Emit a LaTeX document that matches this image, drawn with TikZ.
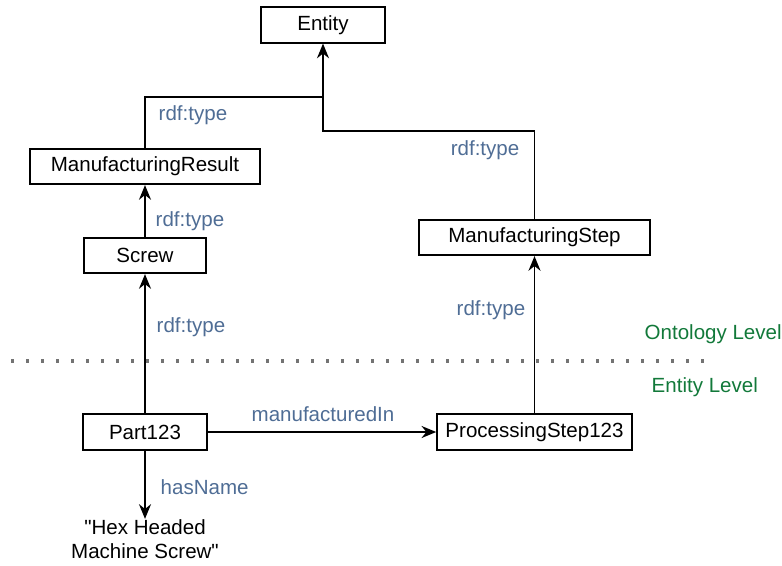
\documentclass[tikz,border=0pt]{standalone}
\usepackage{fontspec}
\setmainfont{Liberation Sans}[Ligatures=TeXOff]
\usetikzlibrary{positioning,arrows.meta}
\definecolor{relblue}{HTML}{4F6D95}
\definecolor{levelgreen}{HTML}{12793A}

\begin{document}
\begin{tikzpicture}
  [x=0.75pt, y=-0.75pt,
   every node/.style={font=\fontsize{15.4}{18.5}\selectfont},
   box/.style={draw, line width=1.4pt, minimum height=26.5pt, inner sep=0pt},
   rel/.style={text=relblue},
   lvl/.style={text=levelgreen, anchor=west},
   conn/.style={line width=1.4pt, -{Stealth[length=11pt, width=9pt]}}]
  \useasboundingbox (0,0) rectangle (782,565);
  % Ontology level
  \node[box, minimum width=93pt]    (entity) at (323, 25)    {Entity};
  \node[box, minimum width=172.5pt] (mres)   at (145, 166.5) {ManufacturingResult};
  \node[box, minimum width=91.5pt]  (screw)  at (145, 255.5) {Screw};
  \node[box, minimum width=173pt]   (mstep)  at (534.5, 237.5) {ManufacturingStep};
  % Entity level
  \node[box, minimum width=93pt]    (part)   at (145, 432)   {Part123};
  \node[box, minimum width=146pt]   (pstep)  at (534.5, 432) {ProcessingStep123};
  \node[inner sep=0pt, align=center] (hexname) at (145, 539)
    {"Hex Headed\\Machine Screw"};
  % Bends
  \coordinate (join) at (323, 97);
  \coordinate (bend) at (323, 131);
  % Connectors
  \draw[line width=1.4pt] (mstep.north) |- (bend) -- (join);
  \draw[conn] (mres.north) |- (join) -- (entity.south);
  \draw[conn] (screw.north) -- (mres.south);
  \draw[conn] (part.north) -- (screw.south);
  \draw[conn] (pstep.north) -- (mstep.south);
  \draw[conn] (part.east) -- (pstep.west);
  \draw[conn] (part.south) -- (hexname.north);
  % Edge labels
  \node[rel, anchor=west] (lbl1) at (154, 115) {rdf:type};
  \node[rel, anchor=west] (lbl2) at (151, 221) {rdf:type};
  \node[rel, anchor=west] (lbl3) at (152, 327) {rdf:type};
  \node[rel, anchor=east] (lbl4) at (524, 150) {rdf:type};
  \node[rel, anchor=west] (lbl5) at (452, 310) {rdf:type};
  \node[rel] (lbl6) at (323, 414) {manufacturedIn};
  \node[rel, anchor=west] (lbl7) at (156, 487) {hasName};
  % Level separator
  \draw[black!55, line width=2.6pt, dash pattern=on 2.6pt off 8.65pt] (11, 361) -- (712, 361);
  \node[lvl] (onto) at (640, 334) {Ontology Level};
  \node[lvl] (ent)  at (647, 387) {Entity Level};
\end{tikzpicture}
\end{document}
